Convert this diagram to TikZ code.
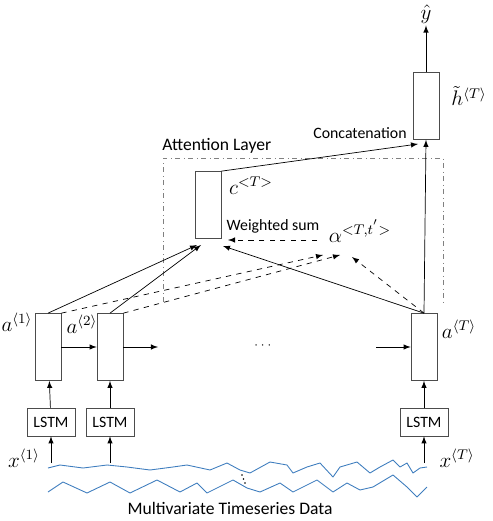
\documentclass[tikz,border=0pt]{standalone}
\usepackage{amsmath}
\usepackage{fontspec}
\setmainfont{Carlito}
\usepackage{tikz}

\definecolor{seriesblue}{RGB}{62,125,190}

\begin{document}
\begin{tikzpicture}[x=0.02cm,y=-0.02cm,
	cell/.style={draw=black!70,minimum width=0.52cm,minimum height=1.34cm,inner sep=0pt},
	lstm/.style={draw=black!70,minimum width=0.96cm,minimum height=0.56cm,inner sep=0pt,font=\fontsize{9}{10}\selectfont},
	txt/.style={inner sep=0pt,font=\fontsize{9}{10}\selectfont},
	math/.style={inner sep=1pt,font=\large},
	wave/.style={draw=seriesblue,line width=0.5pt,line join=round},
	>=latex]
	\useasboundingbox (0,0) rectangle (493,521);

	% hidden states and lstm cells
	\node[cell] (a1) at (48, 347)  {};
	\node[cell] (a2) at (110, 347) {};
	\node[cell] (aT) at (424, 347) {};
	\node[lstm] (s1) at (51, 422)  {LSTM};
	\node[lstm] (s2) at (110, 422) {LSTM};
	\node[lstm] (sT) at (424, 422) {LSTM};
	\node[cell] (c)  at (208, 205) {};
	\node[cell] (h)  at (426, 106) {};

	\node[math] at (17, 322)  {$a^{\langle 1\rangle}$};
	\node[math] at (82, 324)  {$a^{\langle 2\rangle}$};
	\node[math] at (459, 329) {$a^{\langle T\rangle}$};
	\node[math] at (24, 458)  {$x^{\langle 1\rangle}$};
	\node[math] at (457, 458) {$x^{\langle T\rangle}$};
	\node[math] at (251, 186) {$c^{<T>}$};
	\node[math] at (360, 231) {$\alpha^{<T,t^{'}>}$};
	\node[math] at (469, 96)  {$\tilde{h}^{\langle T\rangle}$};
	\node[math] (y) at (426, 14) {$\hat{y}$};
	\node (dots) at (264, 346) {\scriptsize$\cdots$};

	\node[txt] at (273, 226) {Weighted sum};
	\node[txt] at (360, 133) {Concatenation};
	\node[txt,anchor=west] at (162, 146) {\fontsize{10}{11}\selectfont Attention Layer};
	\node[txt] at (230, 508) {\fontsize{10}{11}\selectfont Multivariate Timeseries Data};

	% attention layer frame
	\draw[black!50,dash dot,line width=0.4pt] (163, 302) -- (163, 158) -- (443, 158) -- (443, 302);

	% free ends
	\coordinate (in1) at (51, 463);
	\coordinate (in2) at (110, 463);
	\coordinate (inT) at (424, 463);
	\coordinate (r2)  at (158, 347);
	\coordinate (lT)  at (376, 347);
	\coordinate (c1)  at (197, 245);
	\coordinate (c2)  at (201, 245);
	\coordinate (c3)  at (223, 246);
	\coordinate (w1)  at (323, 255);
	\coordinate (w2)  at (340, 255);
	\coordinate (w3)  at (352, 257);
	\coordinate (wc)  at (228, 240);
	\coordinate (wa)  at (317, 240);
	\coordinate (hc)  at (418, 144);

	\path[->] (in1) edge (s1);
	\path[->] (in2) edge (s2);
	\path[->] (inT) edge (sT);
	\path[->] (s1) edge (a1);
	\path[->] (s2) edge (a2);
	\path[->] (sT) edge (aT);
	\path[->] (a1) edge (a2);
	\path[->] (a2.east) edge (r2);
	\path[->] (lT) edge (aT.west);

	\path[->] (a1.north) edge (c1);
	\path[->] (a2.north) edge (c2);
	\path[->] (aT.north) edge (c3);
	\path[->,dashed] (a1.north east) edge (w1);
	\path[->,dashed] (a2.north east) edge (w2);
	\path[->,dashed] (aT.north) edge (w3);
	\path[->,dashed] (wa) edge (wc);

	\path[->] (c.north east) edge (hc);
	\path[->] (aT.north) edge (h.south);
	\path[->] (h.north) edge (y);

	% time series
	\draw[wave] (48,468) -- (60,465) -- (83,468) -- (107,465) -- (127,467) -- (150,470) -- (173,467)
		-- (187,465) -- (210,470) -- (227,463) -- (240,470) -- (250,473) -- (270,462) -- (287,465)
		-- (293,473) -- (307,467) -- (320,463) -- (333,477) -- (340,467) -- (357,462) -- (370,473)
		-- (380,467) -- (393,460) -- (400,467) -- (407,463) -- (413,473) -- (420,468) -- (427,467);
	\draw[wave] (48,492) -- (63,482) -- (87,493) -- (110,482) -- (130,493) -- (157,480) -- (180,492)
		-- (197,483) -- (207,493) -- (233,480) -- (247,488) -- (260,492) -- (280,483) -- (293,492)
		-- (317,480) -- (333,492) -- (347,483) -- (360,490) -- (373,487) -- (393,475) -- (407,487)
		-- (417,497) -- (427,487);
	\foreach \px/\py in {242/475, 243.5/479, 245/483}
		\fill (\px,\py) circle (0.45pt);

\end{tikzpicture}
\end{document}
